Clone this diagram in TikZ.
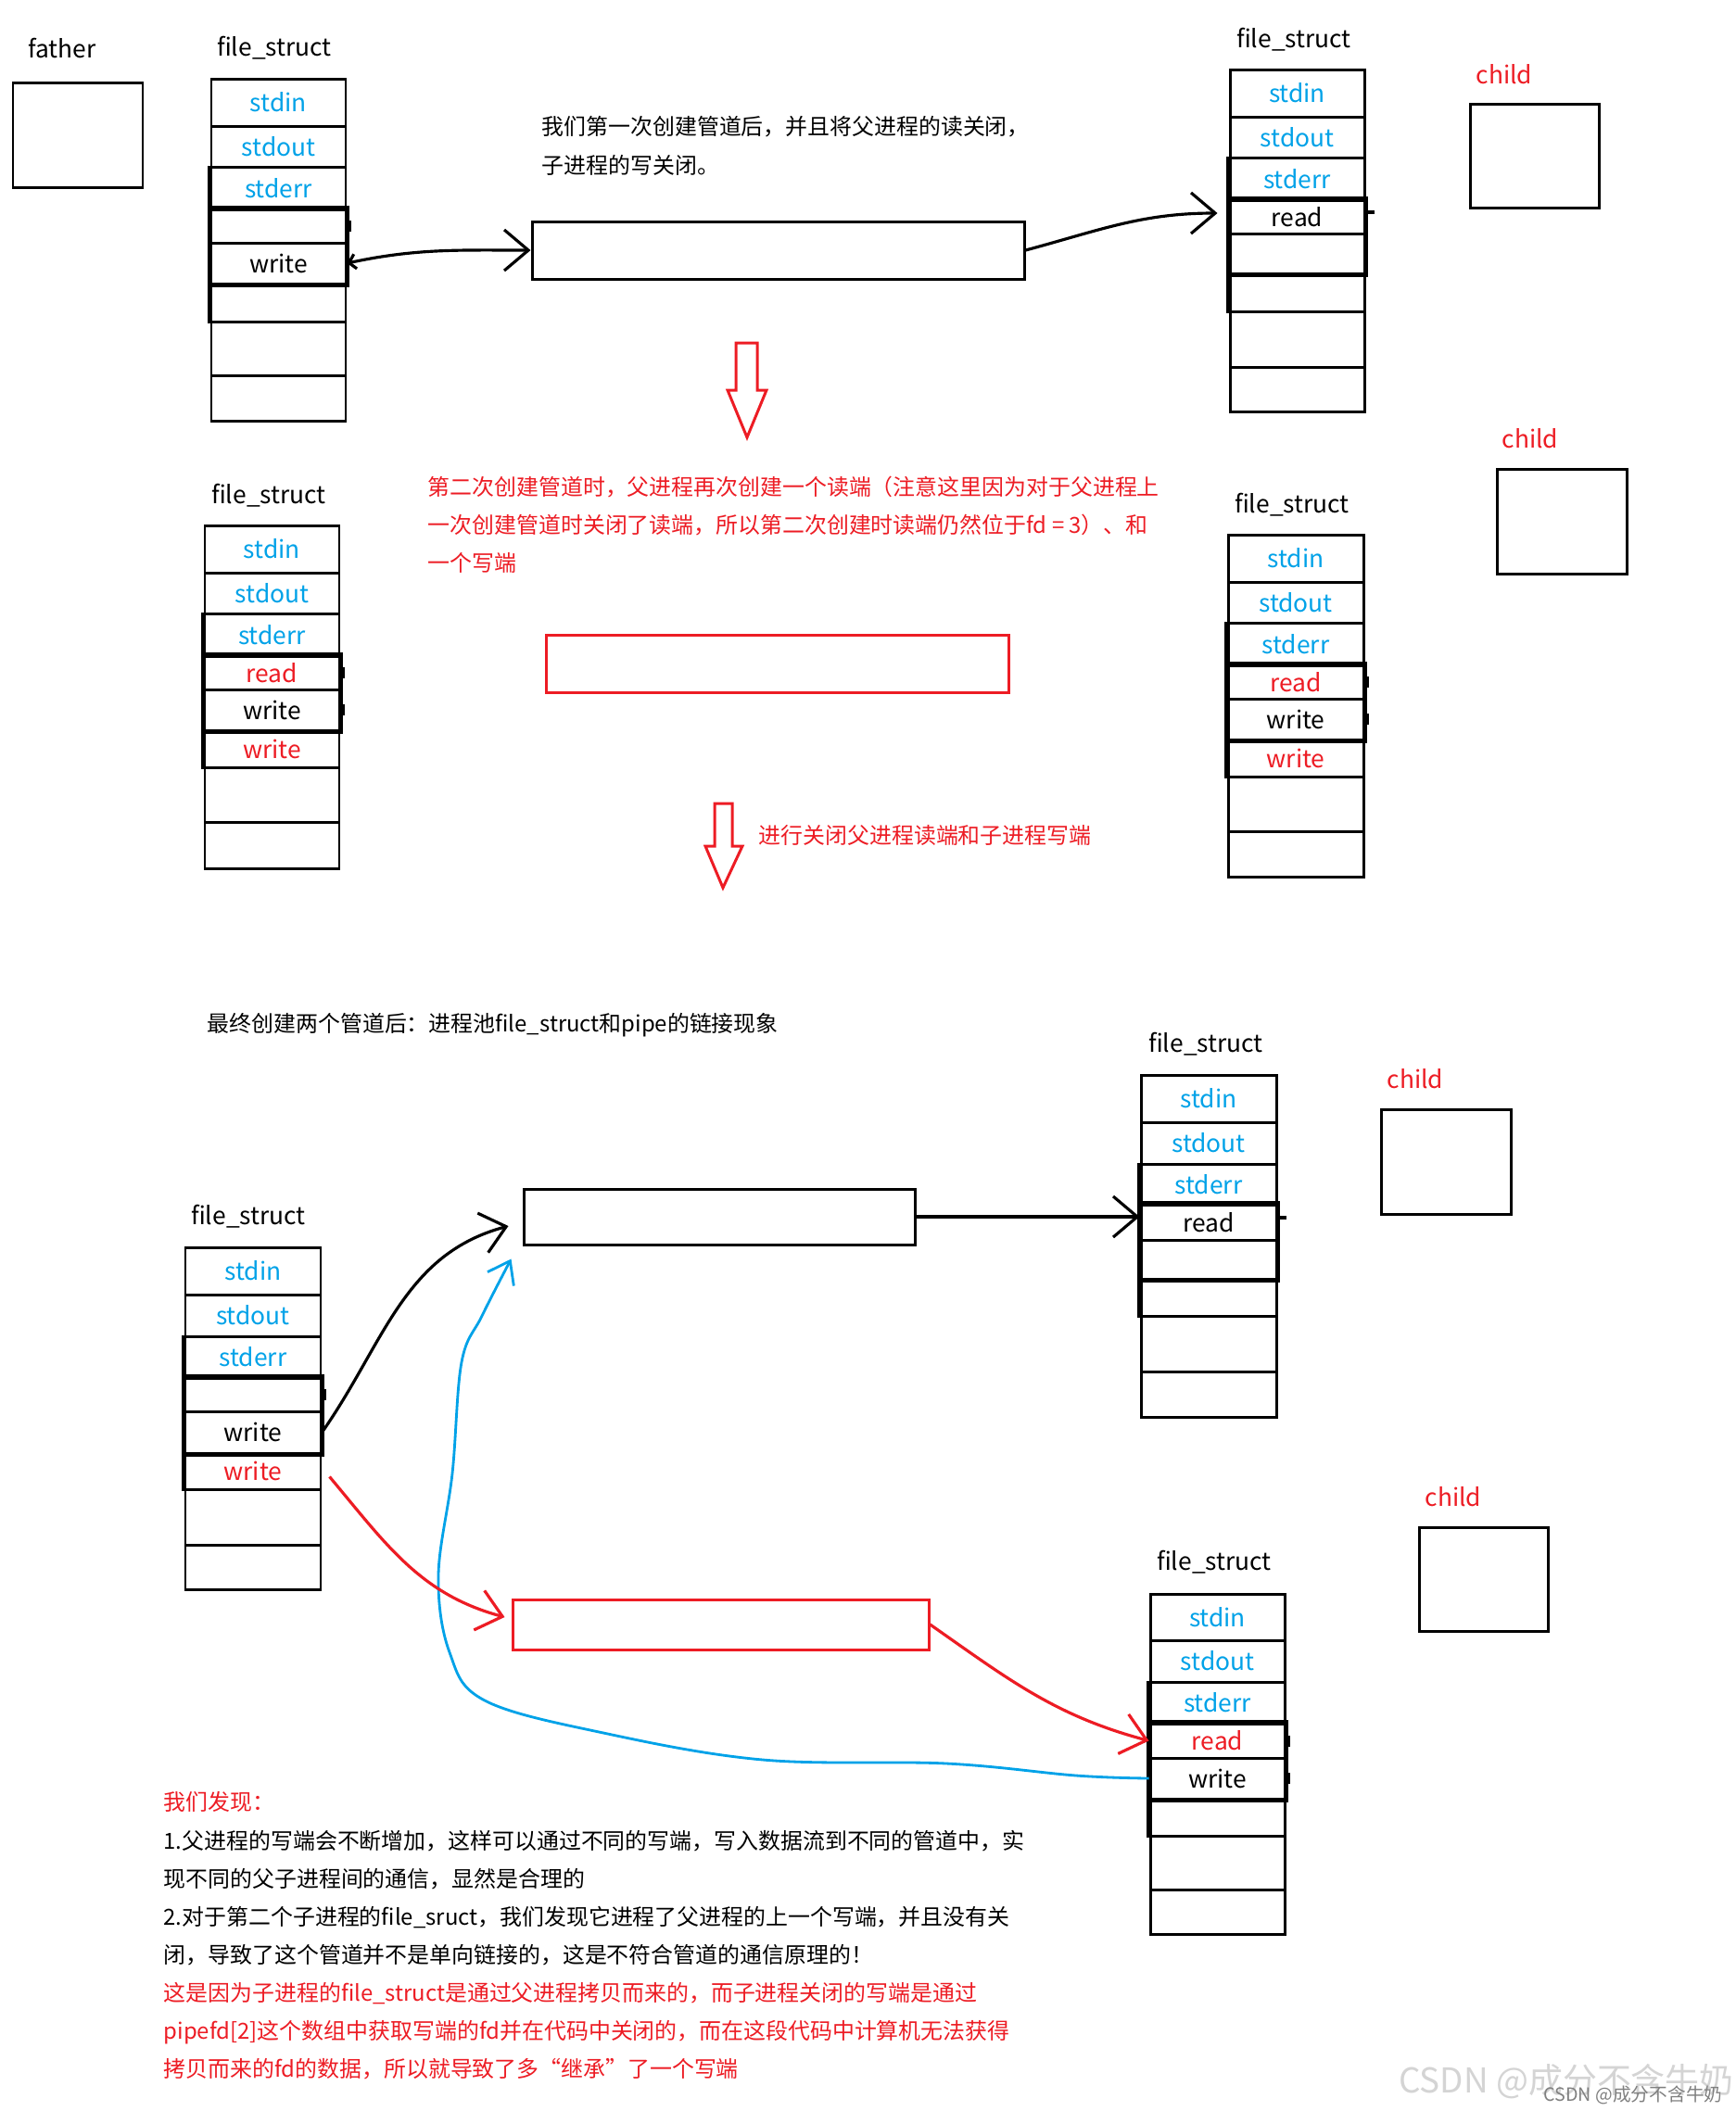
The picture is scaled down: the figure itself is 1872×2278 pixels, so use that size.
\documentclass[tikz,border=0pt]{standalone}
\usepackage{fontspec}
\setmainfont{Noto Sans CJK SC}
\usepackage{tikz}
\usetikzlibrary{arrows.meta,fit}
\definecolor{PaintBlue}{RGB}{0,162,232}
\definecolor{PaintRed}{RGB}{237,28,36}
\definecolor{MarkGray}{RGB}{212,212,212}

% one file_struct column: name, left x, right x, rows top/bottom/text/colour
\newcommand{\filestruct}[4]{%
  \foreach \rtop/\rbot/\rlab/\rcol [count=\rowno] in {#4}
    \node[fdcell, fit={(#2,\rtop) (#3,\rbot)},
      label={[fdtext, text=\rcol]center:\rlab}] (#1-\rowno) {};
  \draw[fdframe] (#1-4.north west) rectangle (#1-5.south east);
  \draw[fdframe] (#1-3.north west) -- (#1-6.south west);
}

\begin{document}
\begin{tikzpicture}[
  x=0.01cm, y=-0.01cm,
  lbl/.style={font=\fontsize{7.5}{9}\selectfont, inner sep=0pt},
  fdcell/.style={draw, line width=0.85pt, inner sep=0pt},
  fdtext/.style={font=\fontsize{7.5}{9}\selectfont, inner sep=0pt},
  fdframe/.style={line width=1.5pt},
  fdtick/.style={line width=1pt},
  procbox/.style={draw, line width=0.85pt, inner sep=0pt},
  pipebox/.style={draw, line width=0.85pt, inner sep=0pt},
  note/.style={font=\fontsize{6.8}{11.7}\selectfont, inner sep=0pt, align=left},
  inkline/.style={line width=0.9pt},
  inkarrow/.style={inkline, -{Straight Barb[length=2.6mm,width=4.4mm]}},
  redarrow/.style={inkarrow, color=PaintRed},
  bluearrow/.style={line width=0.8pt, color=PaintBlue, -{Straight Barb[length=2.2mm,width=3.2mm]}},
  blockarrow/.style={draw=PaintRed, line width=0.85pt, line join=miter}
]
\fill[white] (0,0) rectangle (1872,2278);
\useasboundingbox (0,0) rectangle (1872,2278);

% ---- first pipe ----
\node[lbl] (fatherlbl) at (67,52) {father};
\node[procbox, fit={(14,89) (154,202)}] (father) {};
\node[lbl] (fslbl1) at (296,52) {file\_struct};
\filestruct{s1}{228}{373}{85/136/stdin/PaintBlue, 136/180/stdout/PaintBlue,
  180/226/stderr/PaintBlue, 226/262/{}/black, 262/306/write/black,
  306/347/{}/black, 347/405/{}/black, 405/454/{}/black}

\node[note, anchor=north west] (note1) at (584,125)
  {我们第一次创建管道后，并且将父进程的读关闭，\\子进程的写关闭。};
\node[pipebox, fit={(574,239) (1105,301)}] (pipe1) {};

\node[lbl] (fslbl2) at (1396,43) {file\_struct};
\filestruct{s2}{1327}{1472}{75/126/stdin/PaintBlue, 126/170/stdout/PaintBlue,
  170/216/stderr/PaintBlue, 216/252/read/black, 252/295/{}/black,
  295/336/{}/black, 336/396/{}/black, 396/444/{}/black}
\node[lbl, text=PaintRed] (childlbl1) at (1623,80) {child};
\node[procbox, fit={(1586,112) (1725,224)}] (child1) {};

\draw[inkline, {Straight Barb[length=0.7mm,width=1.6mm]}-{Straight Barb[length=2.6mm,width=4.4mm]}]
  (s1-5.east) to[out=12,in=180] (pipe1.west);
\draw[inkarrow] (pipe1.east) to[out=15,in=180] ([shift={(-12,-4)}]s2-4.west);

\draw[blockarrow] (794,370) -- (817,370) -- (817,421) -- (827,421) -- (806,472)
  -- (785,421) -- (794,421) -- cycle;

% ---- second pipe ----
\node[lbl] (fslbl3) at (290,535) {file\_struct};
\filestruct{s3}{221}{366}{567/618/stdin/PaintBlue, 618/662/stdout/PaintBlue,
  662/708/stderr/PaintBlue, 708/744/read/PaintRed, 744/788/write/black,
  788/828/write/PaintRed, 828/887/{}/black, 887/937/{}/black}

\node[note, anchor=north west, text=PaintRed] (note2) at (461,513)
  {第二次创建管道时，父进程再次创建一个读端（注意这里因为对于父进程上\\
   一次创建管道时关闭了读端，所以第二次创建时读端仍然位于fd = 3）、和\\
   一个写端};
\node[pipebox, draw=PaintRed, fit={(589,685) (1088,747)}] (pipe2) {};

\node[lbl] (fslbl4) at (1394,545) {file\_struct};
\filestruct{s4}{1325}{1471}{577/628/stdin/PaintBlue, 628/672/stdout/PaintBlue,
  672/718/stderr/PaintBlue, 718/754/read/PaintRed, 754/798/write/black,
  798/838/write/PaintRed, 838/897/{}/black, 897/946/{}/black}
\node[lbl, text=PaintRed] (childlbl2) at (1651,473) {child};
\node[procbox, fit={(1615,506) (1755,619)}] (child2) {};

\draw[blockarrow] (771,867) -- (790,867) -- (790,913) -- (801,913) -- (780,958)
  -- (761,913) -- (771,913) -- cycle;
\node[note, anchor=west, text=PaintRed] (note3) at (818,901) {进行关闭父进程读端和子进程写端};

% ---- after both pipes ----
\node[note, anchor=west] (title) at (223,1106) {最终创建两个管道后：进程池file\_struct和pipe的链接现象};

\node[lbl] (fslbl5) at (268,1313) {file\_struct};
\filestruct{s5}{200}{346}{1346/1397/stdin/PaintBlue, 1397/1442/stdout/PaintBlue,
  1442/1487/stderr/PaintBlue, 1487/1523/{}/black, 1523/1568/write/black,
  1568/1607/write/PaintRed, 1607/1667/{}/black, 1667/1715/{}/black}

\node[pipebox, fit={(565,1283) (987,1343)}] (pipe3) {};
\node[pipebox, draw=PaintRed, fit={(553,1726) (1002,1780)}] (pipe4) {};

\node[lbl] (fslbl6) at (1301,1127) {file\_struct};
\filestruct{s6}{1231}{1377}{1160/1211/stdin/PaintBlue, 1211/1256/stdout/PaintBlue,
  1256/1300/stderr/PaintBlue, 1300/1338/read/black, 1338/1380/{}/black,
  1380/1420/{}/black, 1420/1480/{}/black, 1480/1529/{}/black}
\node[lbl, text=PaintRed] (childlbl3) at (1527,1164) {child};
\node[procbox, fit={(1490,1197) (1630,1310)}] (child3) {};

\node[lbl, text=PaintRed] (childlbl4) at (1568,1615) {child};
\node[procbox, fit={(1531,1648) (1670,1760)}] (child4) {};
\node[lbl] (fslbl7) at (1310,1686) {file\_struct};
\filestruct{s7}{1241}{1386}{1720/1770/stdin/PaintBlue, 1770/1815/stdout/PaintBlue,
  1815/1860/stderr/PaintBlue, 1860/1897/read/PaintRed, 1897/1941/write/black,
  1941/1981/{}/black, 1981/2039/{}/black, 2039/2087/{}/black}

\draw[inkarrow] (s5-5.east) to[out=55,in=195] ([shift={(-15,10)}]pipe3.west);
\draw[inkarrow] (pipe3.east) -- (pipe3.east -| s6-4.west);
\draw[bluearrow] plot[smooth, tension=0.6] coordinates {(s7-5.west) (1161,1916)
  (1021,1903) (823,1899) (651,1870) (523,1835) (485,1783) (473,1700) (488,1590)
  (498,1470) (520,1420) ([shift={(-12,14)}]pipe3.south west)};
\draw[redarrow] ([shift={(8,6)}]s5-6.east) to[out=-50,in=165] ([shift={(-7,-8)}]pipe4.west);
\draw[redarrow] (pipe4.east) to[out=-35,in=165] (s7-4.west);

% leftover pen marks on the columns
\foreach \nd in {s1-4, s3-4, s3-5, s4-4, s4-5, s5-4, s7-4, s7-5}
  \draw[fdtick] ([shift={(3,-6)}]\nd.east) -- ++(0,12);
\foreach \nd in {s2-4, s6-4}
  \draw[fdtick] ([shift={(0,-5)}]\nd.east) -- ++(9,0);

\node[note, anchor=north west] (findings) at (176,1933) {%
  \textcolor{PaintRed}{我们发现：}\\
  1.父进程的写端会不断增加，这样可以通过不同的写端，写入数据流到不同的管道中，实\\
  现不同的父子进程间的通信，显然是合理的\\
  2.对于第二个子进程的file\_sruct，我们发现它进程了父进程的上一个写端，并且没有关\\
  闭，导致了这个管道并不是单向链接的，这是不符合管道的通信原理的！\\
  \textcolor{PaintRed}{这是因为子进程的file\_struct是通过父进程拷贝而来的，而子进程关闭的写端是通过}\\
  \textcolor{PaintRed}{pipefd[2]这个数组中获取写端的fd并在代码中关闭的，而在这段代码中计算机无法获得}\\
  \textcolor{PaintRed}{拷贝而来的fd的数据，所以就导致了多“继承”了一个写端}};

\node[lbl, font=\fontsize{10.5}{12}\selectfont, text=MarkGray] (mark) at (1690,2246) {CSDN @成分不含牛奶};
\node[lbl, font=\fontsize{5.6}{7}\selectfont, text=gray] (marksmall) at (1762,2261) {CSDN @成分不含牛奶};
\end{tikzpicture}
\end{document}
